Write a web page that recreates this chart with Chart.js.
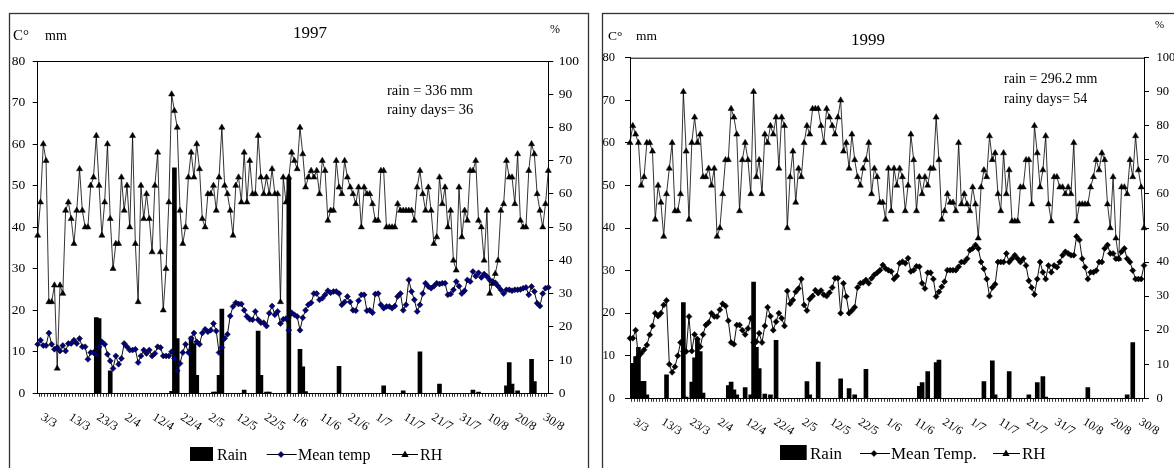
<!DOCTYPE html>
<html>
<head>
<meta charset="utf-8">
<script src="https://cdn.jsdelivr.net/npm/chart.js@4.4.0/dist/chart.umd.min.js"></script>
<style>
  body { margin:0; background:#fff; overflow:hidden; }
  canvas { position:absolute; top:0; }
  #c97 { left:0; }
  #c99 { left:595px; }
</style>
</head>
<body>
<canvas id="c97" width="595" height="468"></canvas>
<canvas id="c99" width="579" height="468"></canvas>
<script>
// days 1/3 .. 31/8
const months = [[3,31],[4,30],[5,31],[6,30],[7,31],[8,31]];
const days = [];
months.forEach(([m, n]) => { for (let d = 1; d <= n; d++) days.push(d + '/' + m); });

const tickLabels = ['3/3','13/3','23/3','2/4','12/4','22/4','2/5','12/5','22/5','1/6',
                    '11/6','21/6','1/7','11/7','21/7','31/7','10/8','20/8','30/8'];

// ---- 1997 ----
const rain1997 = [
  0,0,0,0,0,0,0,0,0,0,
  0,0,0,0,0,0,0,0,0,0,
  0,18.2,18,0,0,0,5.4,0,0,0,
  0,0,0,0,0,0,0,0,0,0,
  0,0,0,0,0,0,0,0,0.5,54.3,
  13.2,0,0,0,0,13.6,12,4.3,0,0,
  0,0,0,0.3,0.3,4.3,20.3,0,0,0,
  0,0,0,0,0.8,0,0,0,0,15,
  4.3,0,0.3,0.3,0,0,0,0,0,0,
  51.5,0,0,0,10.6,6.4,0.4,0,0,0,
  0,0,0,0,0,0,0,0,6.5,0,
  0,0,0,0,0,0,0,0,0,0,
  0,0,0,0,1.8,0,0,0,0,0,
  0,0.6,0,0,0,0,0,10,0,0,
  0,0,0,0,2.2,0,0,0,0,0,
  0,0,0,0,0,0,0.8,0,0.3,0,
  0,0,0,0,0,0,0,0,1.8,7.4,
  2.2,0,0.6,0,0,0,0,8.2,2.8,0,
  0,0,0,0];
const temp1997 = [
  11.8,12.8,11.5,11.5,14.5,11.8,10.6,11,10.2,11.5,
  10.2,12,12,12.8,12,13.2,11.2,11.2,8.2,9.8,
  9.8,9.2,11.2,12.4,11.8,9.4,7.8,6,9,7,
  8.4,12,11.2,10.4,10.4,10.6,7.4,9,10.4,9.6,
  10.4,9,9.6,11.2,11,9,9,9,10,8.4,
  5.4,7.2,9.8,11.8,9.8,13.2,14.5,12.4,11.8,14.5,
  15.4,14.8,15.2,16.8,15,9.8,11,13.2,14.2,18.6,
  20.9,21.8,21.5,21.5,20,18.5,17.8,17.7,19.7,17.7,
  17,17,16.2,19.3,21,18.9,19.7,16.8,17.8,18,
  15.2,19.4,18.9,18.5,15.2,18.2,20,21.3,21.8,24,
  24,22.5,22.9,23.7,24.7,24.2,24.5,24.5,24,21.3,
  22,23.3,22,20,19.9,22.3,23.7,23.7,19.9,20,
  19.4,23.9,24,21.3,20.5,20.9,20.9,20.5,21,23.3,
  24,20,21.3,27.3,24.5,22.5,19.7,21.3,24,26.5,
  25.7,25.3,25.8,26.5,26.3,26.5,26.5,23.7,23.9,24.9,
  26.9,25.8,24,24.7,27.3,26.9,29.3,28.2,29,27.9,
  28.7,28.1,27.3,26.9,26.6,25.8,24.9,24,24.9,24.9,
  24.7,24.9,24.9,25,25.3,25.5,23.7,25.7,24.5,21.7,
  21,24,25.3,25.5];
const rh1997 = [
  47.5,57.5,75,70,27.5,27.5,32.5,7.5,32.5,30,
  55,57.5,52.5,45,55,67.5,55,50,50,62.5,
  65,77.5,62.5,47.5,57.5,75,52.5,37.5,45,45,
  65,55,62.5,50,77.5,45,27.5,62.5,52.5,60,
  52.5,42.5,62.5,72.5,42.5,25,37.5,57.5,90,85,
  80,55,45,50,65,72.5,65,75,67.5,52.5,
  50,60,60,62.5,55,65,80,62.5,60,55,
  47.5,62.5,65,57.5,72.5,57.5,70,60,60,77.5,
  65,60,65,60,67.5,60,60,27.5,65,57.5,
  65,72.5,70,67.5,80,72,62,65,67,65,
  67,60,70,67,52,55,55,70,62,60,
  70,65,62,60,57,62,50,62,60,60,
  57,52,52,67,67,50,50,50,50,57,
  55,55,55,55,55,52,62,67,60,55,
  62,55,45,47,65,57,62,50,55,40,
  37,62,47,55,52,67,67,70,52,50,
  40,55,30,33,36,40,55,57,70,65,
  65,57,72,52,50,50,67,75,72,60,
  55,50,57,67];

// ---- 1999 ----
const rain1999 = [
  0,8.2,9.8,12,4,4,0.8,0,0,0,
  0,0,0,5.5,0,0,0,0,0,22.5,
  0.3,0,3.8,9.5,14,11,1.2,0,0,0,
  0,0,0,0,0,3,3.8,2,0.8,0,
  0,2.5,0,0.8,27.3,12,7,0,1,0,
  0.8,0,13.6,0,0,0,0,0,0,0,
  0,0,0,3.9,0.8,0,0,8.5,0,0,
  0,0,0,0,0,4.6,0,0,2.3,0,
  0.8,0,0,0,6.8,0,0,0,0,0,
  0,0,0,0,0,0,0,0,0,0,
  0,0,0,2.8,3.7,0,6.3,0,0,8.4,
  9,0,0,0,0,0,0,0,0,0,
  0,0,0,0,0,0,3.9,0,0,8.8,
  0.8,0,0,0,0,6.3,0,0,0,0,
  0,0,0.8,0,0,3.7,0,5.1,0.3,0,
  0,0,0,0,0,0,0,0,0,0,
  0,0,0,2.5,0,0,0,0,0,0,
  0,0,0,0,0,0,0,0.8,0,13.1,
  0,0,0,0];
const temp1999 = [
  14.1,14.1,16,9.8,10.6,11.4,12.5,14.9,17,20,
  19.3,20,21.9,23,8,6.1,7.4,10,13.1,11,
  11,19.2,11.1,15,13.9,12.1,15,17.2,17.8,20,
  19.2,19.2,20.8,22.2,21.7,18.2,13.1,12.7,17.2,17.2,
  16,15,16.4,18.8,13.1,13.3,15.3,13.1,17,21.4,
  19.3,16,18,20,18.8,17,25.2,22.2,23.1,25,
  25.8,28,21.9,20.6,23.3,24,25.4,24.7,25.3,24.3,
  24,24.8,26,28.2,28.2,20,27,23.9,20,20.6,
  21.4,26,27,27.2,27.8,27,28.2,29,29.5,30.1,
  31.3,30.5,30.1,29.8,28,28.7,31.7,32.1,31.7,32.9,
  29.8,30.1,31,30.9,27,25.8,29.5,29.5,28,23.9,
  25,26.2,27.4,30.1,30.1,30.1,30.1,30.9,32,32,
  32.8,34.8,35.2,36,35.2,32,30.4,28,24,26,
  26.8,32,32,32,34,32,32.8,33.6,32.8,32,
  32.8,31.2,27.6,26,24.4,28,32,29.6,28,31.2,
  29.6,31.2,30.8,32,33.6,34.4,34,33.6,33.6,38,
  37.2,32.8,30.8,28,29.6,29.6,30,32,32,35.2,
  36,34,34,32.8,32.8,34.4,35.2,32.8,32,30,
  28,28,28,31.2];
const rh1999 = [
  75,80,77.5,75,62.5,65,75,75,72.5,52.5,
  62.5,57.5,47.5,60,67.5,75,55,55,60,90,
  72.5,52.5,75,82.5,75,77.5,65,65,67.5,62.5,
  67.5,47.5,50,60,70,70,85,82.5,77.5,55,
  70,75,70,60,90,65,70,60,77.5,75,
  80,77.5,82.5,67.5,82.5,80,50,65,72.5,57.5,
  67.5,65,75,80,77.5,85,85,85,80,75,
  85,82.5,80,77.5,82.5,87.5,72.5,75,67.5,77.5,
  70,65,62.5,67.5,70,75,60,67.5,65,57.5,
  57.5,52.5,67.5,55,67.5,62.5,67.5,65,55,62.5,
  77.5,70,55,65,60,65,62.5,67.5,67.5,82.5,
  70,52.5,55,60,57.5,57.5,55,75,57,60,
  57,55,62,57,47,62,67,65,77,70,
  72,60,55,72,60,67,52,52,52,62,
  62,70,70,57,80,72,62,67,77,57,
  52,65,65,62,62,60,62,60,75,52,
  57,57,57,57,62,65,70,67,72,70,
  57,50,65,47,41,62,62,60,70,65,
  77,67,62,50];

const FONT = "'Liberation Serif', 'Times New Roman', serif";

const panels = [
  {
    canvas: 'c97', rain: rain1997, temp: temp1997, rh: rh1997,
    tempFill: '#000080', tempName: 'Mean temp', title: '1997',
    notes: ['rain = 336 mm', 'rainy days= 36'],
    L: {
      yW: 37.7, y2W: 46.7, top: 61, xH: 74.7, tickFont: 13.5, yPad: 7.5, y2Pad: 5.5,
      box: [9.5, 13.5, 579, 480],
      cdeg: [13, 40, 15], mm: [45, 40, 14], title: [293, 38, 17], pct: [550, 33, 12],
      notes: [387, 95, 114, 14.5], labTop: 411, labFont: 12.5,
      leg: { rect: [190, 447, 23, 14], rainX: 217, base: 459.5, font: 16, lineY: 454.5,
             t: [266.7, 296.7, 281], tText: 298, r: [392, 418, 405], rText: 420 }
    }
  },
  {
    canvas: 'c99', rain: rain1999, temp: temp1999, rh: rh1999,
    tempFill: '#000', tempName: 'Mean Temp.', title: '1999',
    notes: ['rain = 296.2 mm', 'rainy days= 54'],
    L: {
      yW: 35, y2W: 30, top: 57.7, xH: 69.7, tickFont: 12.5, yPad: 10, y2Pad: 7.5,
      box: [7.5, 13.5, 600, 480],
      cdeg: [13, 40, 13.5], mm: [41, 40, 13.5], title: [256, 45, 17], pct: [560, 28, 11],
      notes: [409, 83, 103, 14], labTop: 416, labFont: 12,
      leg: { rect: [185, 445, 26.7, 15], rainX: 215, base: 459, font: 17, lineY: 453.5,
             t: [265, 295, 279], tText: 296, r: [398, 425, 411], rText: 427 }
    }
  }
];

function diamond(ctx, x, y, r, fill) {
  ctx.beginPath();
  ctx.moveTo(x, y - r); ctx.lineTo(x + r, y); ctx.lineTo(x, y + r); ctx.lineTo(x - r, y);
  ctx.closePath();
  ctx.fillStyle = fill; ctx.fill();
  ctx.strokeStyle = '#000'; ctx.lineWidth = 0.6; ctx.stroke();
}
function triangle(ctx, x, y, r) {
  ctx.beginPath();
  ctx.moveTo(x, y - r); ctx.lineTo(x + r * 0.9, y + r * 0.6); ctx.lineTo(x - r * 0.9, y + r * 0.6);
  ctx.closePath();
  ctx.fillStyle = '#000'; ctx.fill();
}

function decorPlugin(p) {
  const L = p.L;
  return {
    id: 'decor',
    beforeDraw(chart) {
      const ctx = chart.ctx;
      ctx.save();
      ctx.fillStyle = '#fff';
      ctx.fillRect(0, 0, chart.width, chart.height);
      ctx.strokeStyle = '#333';
      ctx.lineWidth = 1.3;
      ctx.strokeRect(L.box[0], L.box[1], L.box[2], L.box[3]);
      ctx.restore();
    },
    afterDraw(chart) {
      const ctx = chart.ctx, a = chart.chartArea, xs = chart.scales.x;
      ctx.save();
      ctx.strokeStyle = '#000'; ctx.lineWidth = 1;
      ctx.beginPath(); ctx.moveTo(a.left, a.top + 0.5); ctx.lineTo(a.right, a.top + 0.5); ctx.stroke();

      ctx.fillStyle = '#000';
      ctx.textAlign = 'left'; ctx.textBaseline = 'alphabetic';
      ctx.font = L.cdeg[2] + 'px ' + FONT; ctx.fillText('C°', L.cdeg[0], L.cdeg[1]);
      ctx.font = L.mm[2] + 'px ' + FONT; ctx.fillText('mm', L.mm[0], L.mm[1]);
      ctx.font = L.title[2] + 'px ' + FONT; ctx.fillText(p.title, L.title[0], L.title[1]);
      ctx.font = L.pct[2] + 'px ' + FONT; ctx.fillText('%', L.pct[0], L.pct[1]);
      ctx.font = L.notes[3] + 'px ' + FONT;
      ctx.fillText(p.notes[0], L.notes[0], L.notes[1]);
      ctx.fillText(p.notes[1], L.notes[0], L.notes[2]);

      // slanted date labels
      ctx.font = L.labFont + 'px ' + FONT;
      ctx.textBaseline = 'top';
      tickLabels.forEach(lab => {
        const x = xs.getPixelForValue(days.indexOf(lab));
        ctx.save();
        ctx.translate(x + 2, L.labTop);
        ctx.rotate(32 * Math.PI / 180);
        ctx.fillText(lab, 0, 0);
        ctx.restore();
      });

      // legend
      const g = L.leg;
      ctx.textBaseline = 'alphabetic';
      ctx.fillStyle = '#000';
      ctx.fillRect(g.rect[0], g.rect[1], g.rect[2], g.rect[3]);
      ctx.font = g.font + 'px ' + FONT;
      ctx.fillText('Rain', g.rainX, g.base);
      ctx.fillText(p.tempName, g.tText, g.base);
      ctx.fillText('RH', g.rText, g.base);
      ctx.strokeStyle = '#000'; ctx.lineWidth = 1;
      ctx.beginPath();
      ctx.moveTo(g.t[0], g.lineY); ctx.lineTo(g.t[1], g.lineY);
      ctx.moveTo(g.r[0], g.lineY); ctx.lineTo(g.r[1], g.lineY);
      ctx.stroke();
      diamond(ctx, g.t[2], g.lineY, 3, p.tempFill);
      triangle(ctx, g.r[2], g.lineY, 4);
      ctx.restore();
    }
  };
}

panels.forEach(p => {
  const L = p.L;
  new Chart(document.getElementById(p.canvas), {
    data: {
      labels: days,
      datasets: [
        { type: 'line', label: p.tempName, data: p.temp, yAxisID: 'y', order: 1,
          borderColor: '#111', borderWidth: 1, tension: 0, clip: false,
          pointStyle: 'rectRot', pointRadius: 3, pointBackgroundColor: p.tempFill,
          pointBorderColor: '#000', pointBorderWidth: 0.5 },
        { type: 'line', label: 'RH', data: p.rh, yAxisID: 'y2', order: 2,
          borderColor: '#000', borderWidth: 0.8, tension: 0, clip: false,
          pointStyle: 'triangle', pointRadius: 3.5, pointBackgroundColor: '#000',
          pointBorderColor: '#000', pointBorderWidth: 0.5 },
        { type: 'bar', label: 'Rain', data: p.rain, yAxisID: 'y', order: 3,
          backgroundColor: '#000', borderWidth: 0, barThickness: 4 }
      ]
    },
    options: {
      responsive: false,
      animation: false,
      devicePixelRatio: 1,
      layout: { padding: { top: L.top, left: 0, right: 0, bottom: 0 } },
      plugins: { legend: { display: false }, tooltip: { enabled: false } },
      scales: {
        x: {
          type: 'category', offset: false,
          grid: { drawOnChartArea: false, drawTicks: true, tickLength: 3.5, lineWidth: 0.8, color: '#000' },
          border: { display: true, color: '#000', width: 1 },
          ticks: { display: false },
          afterFit: s => { s.height = L.xH; }
        },
        y: {
          position: 'left', min: 0, max: 80,
          ticks: { stepSize: 10, color: '#000', padding: L.yPad, font: { family: FONT, size: L.tickFont } },
          grid: { drawOnChartArea: false, tickLength: 5, color: '#000' },
          border: { color: '#000', width: 1 },
          afterFit: s => { s.width = L.yW; }
        },
        y2: {
          position: 'right', min: 0, max: 100,
          ticks: { stepSize: 10, color: '#000', padding: L.y2Pad, font: { family: FONT, size: L.tickFont } },
          grid: { drawOnChartArea: false, tickLength: 5, color: '#000' },
          border: { color: '#000', width: 1 },
          afterFit: s => { s.width = L.y2W; }
        }
      }
    },
    plugins: [decorPlugin(p)]
  });
});
</script>
</body>
</html>
